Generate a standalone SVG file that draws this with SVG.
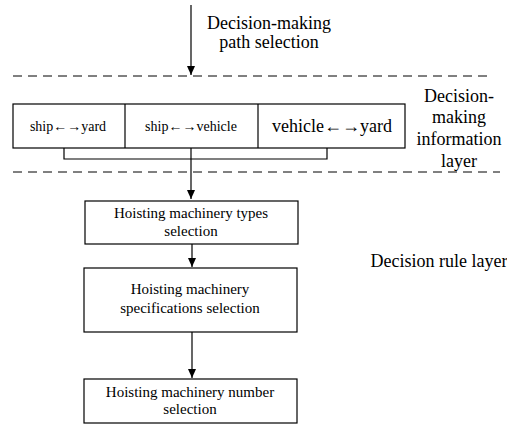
<svg xmlns="http://www.w3.org/2000/svg" width="507" height="439" viewBox="0 0 507 439">
<style>
text{fill:#000;text-anchor:middle}
.box{fill:#fff;stroke:#000;stroke-width:1.2}
.ln{fill:none;stroke:#000;stroke-width:1.2}
.dash{fill:none;stroke:#000;stroke-width:1;stroke-dasharray:9,6}
.t14{font-size:14px}
.t15{font-size:15px}
.t18{font-size:18px}
</style>
<defs>
<marker id="ah" markerWidth="10" markerHeight="10" refX="9" refY="5" orient="auto" markerUnits="userSpaceOnUse">
<path d="M0,1 L9,5 L0,9 Z" fill="#000"/>
</marker>
</defs>
<rect width="507" height="439" fill="#fff"/>
<g id="dividers">
<line class="dash" x1="13" y1="76" x2="487" y2="76"/>
<line class="dash" x1="13" y1="172" x2="500" y2="172"/>
</g>
<g id="connectors">
<line class="ln" x1="191" y1="5" x2="191" y2="75" marker-end="url(#ah)"/>
<polyline class="ln" points="64,148 64,159 327,159 327,148"/>
<line class="ln" x1="191" y1="148" x2="191" y2="199" marker-end="url(#ah)"/>
<line class="ln" x1="192" y1="244" x2="192" y2="267" marker-end="url(#ah)"/>
<line class="ln" x1="192" y1="332" x2="192" y2="378" marker-end="url(#ah)"/>
</g>
<g font-family="Liberation Serif, Times New Roman, serif">
<g id="label-path">
<text class="t18" x="269" y="29">Decision-making</text>
<text class="t18" x="269" y="48">path selection</text>
</g>
<g id="info-layer">
<rect class="box" x="13" y="104" width="392" height="44"/>
<line class="ln" x1="125" y1="104" x2="125" y2="148"/>
<line class="ln" x1="258" y1="104" x2="258" y2="148"/>
<text class="t14" x="68" y="131">ship←→yard</text>
<text class="t14" x="191" y="131">ship←→vehicle</text>
<text class="t18" x="332" y="132">vehicle←→yard</text>
</g>
<g id="label-info">
<text class="t18" x="459" y="102">Decision-</text>
<text class="t18" x="459" y="123">making</text>
<text class="t18" x="459" y="145">information</text>
<text class="t18" x="459" y="167">layer</text>
</g>
<g id="label-rule">
<text class="t18" x="439" y="267">Decision rule layer</text>
</g>
<g id="node-types">
<rect class="box" x="85" y="201" width="213" height="43"/>
<text class="t15" x="191" y="218">Hoisting machinery types</text>
<text class="t15" x="191" y="236">selection</text>
</g>
<g id="node-specs">
<rect class="box" x="84" y="268" width="213" height="64"/>
<text class="t15" x="190" y="294">Hoisting machinery</text>
<text class="t15" x="190" y="313">specifications selection</text>
</g>
<g id="node-number">
<rect class="box" x="84" y="379" width="213" height="44"/>
<text class="t15" x="190" y="397">Hoisting machinery number</text>
<text class="t15" x="190" y="414">selection</text>
</g>
</g>
</svg>
